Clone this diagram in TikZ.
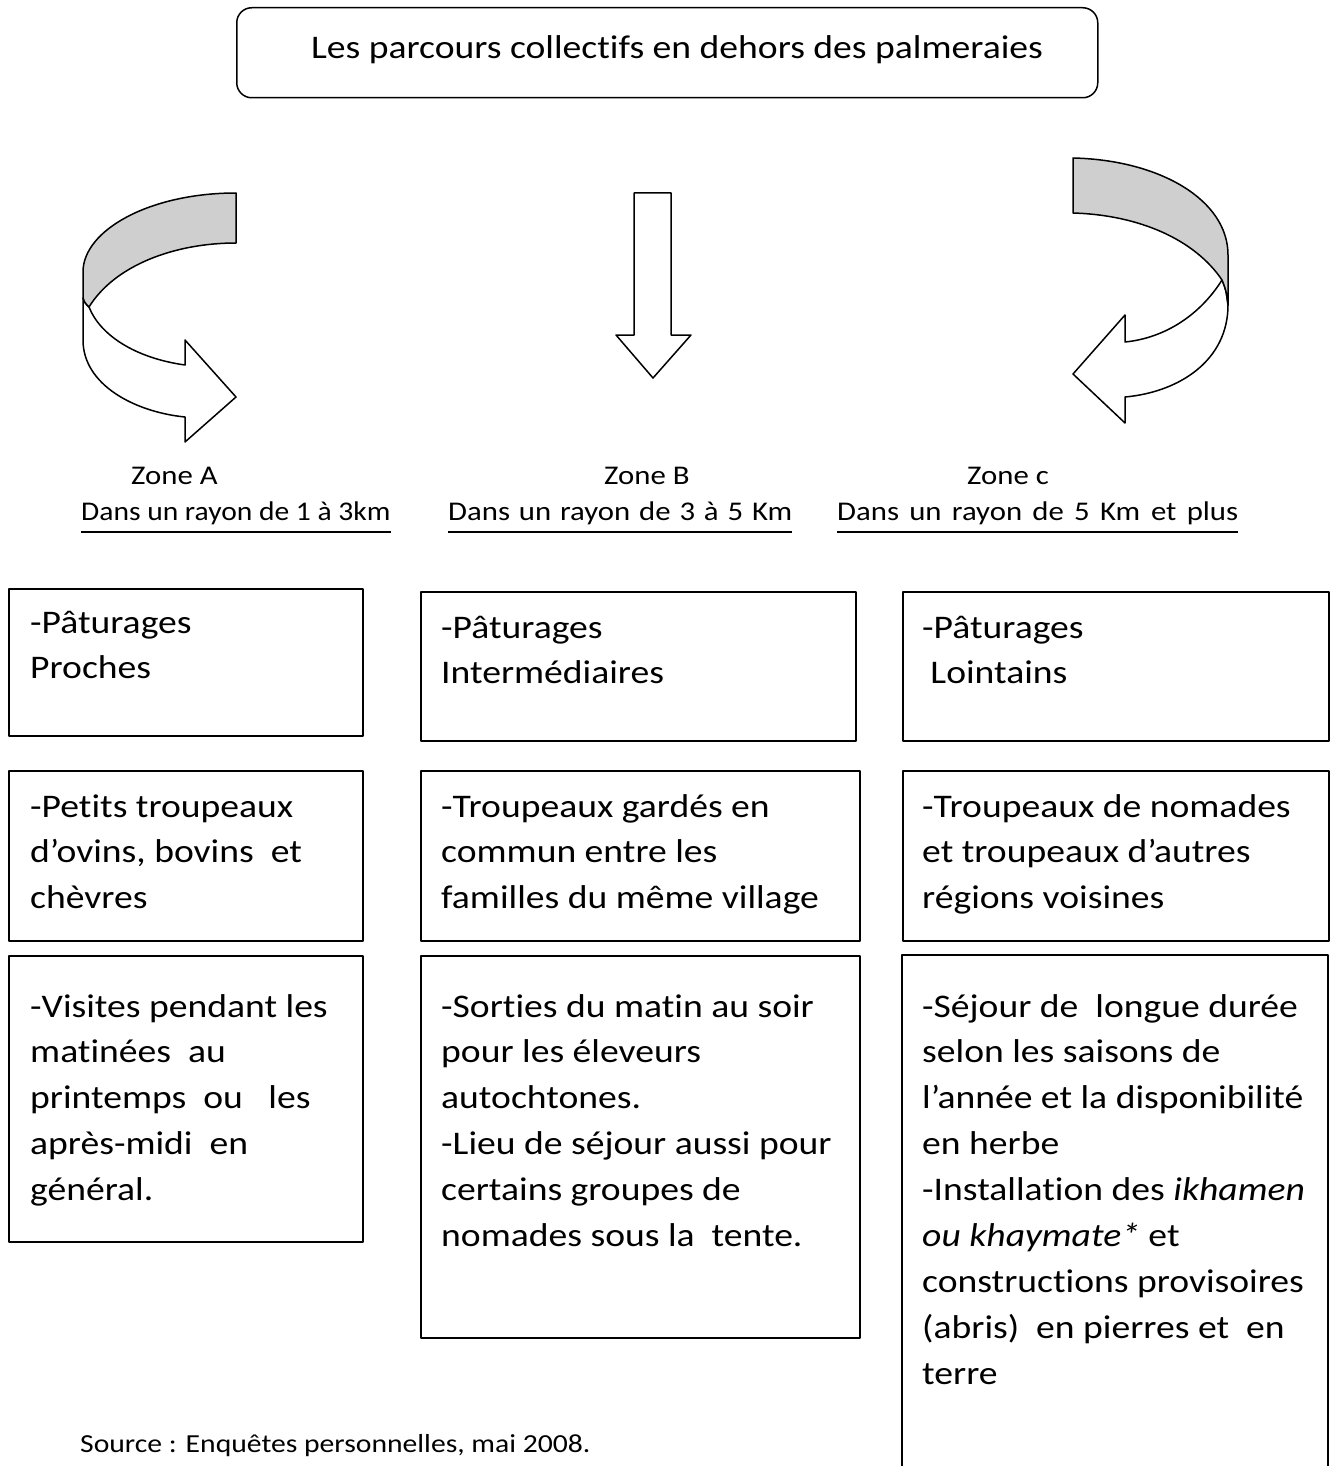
\documentclass[tikz,border=0pt]{standalone}
\usepackage{fontspec}
\setmainfont{Carlito}[FakeStretch=1.14, Ligatures=NoCommon]
\definecolor{bandgray}{RGB}{207,207,207}
\newcommand\bodyfont{\fontsize{33}{45.9}\selectfont}
\newcommand\zonefont{\fontsize{27}{32}\selectfont}
\newcommand\srcfont{\fontsize{26}{32}\selectfont}
\newcommand\cellpar[1]{\parbox[t]{440pt}{\bodyfont\raggedright #1}}
\begin{document}
\begin{tikzpicture}[x=1pt,y=-1pt, line join=round,
  cell/.style={draw, line width=1.5pt, anchor=north west, inner sep=0pt},
  txt/.style={anchor=base west, inner sep=0pt},
  ztxt/.style={anchor=base west, inner sep=0pt, font=\zonefont},
  band/.style={draw, line width=1.5pt},
  uline/.style={line width=2.2pt}]
\useasboundingbox (0,0) rectangle (1333,1466);

% title
\node[draw, rounded corners=15pt, line width=1.5pt, minimum width=861pt, minimum height=90pt, anchor=north west, inner sep=0pt] (title) at (236,7) {};
\node[anchor=base, inner sep=0pt, font=\bodyfont] (titletxt) at (677,59) {Les parcours collectifs en dehors des palmeraies};

% left curved arrow
\path[band, fill=white] (83,298) -- (83,340) .. controls (83,385) and (135,412) .. (185,417) -- (185,442) -- (236,397) -- (185,340) -- (185,365) .. controls (135,358) and (100,335) .. (89,307) .. controls (85,303) .. (83,298) -- cycle;
\path[band, fill=bandgray] (236,193) .. controls (150,193) and (83,230) .. (83,272) -- (83,298) .. controls (85,303) .. (89,307) .. controls (115,265) and (175,243) .. (236,243) -- cycle;

% middle arrow
\path[band, fill=white] (634,193) -- (671,193) -- (671,335) -- (691,335) -- (653,378) -- (616,335) -- (634,335) -- cycle;

% right curved arrow
\path[band, fill=white] (1228,305) .. controls (1228,360) and (1180,392) .. (1125,397) -- (1125,423) -- (1073,374) -- (1125,315) -- (1125,342) .. controls (1165,338) and (1200,315) .. (1222,280) .. controls (1226,290) .. (1228,305) -- cycle;
\path[band, fill=bandgray] (1073,158) .. controls (1160,160) and (1228,200) .. (1228,255) -- (1228,305) .. controls (1226,290) .. (1222,280) .. controls (1195,240) and (1140,215) .. (1073,213) -- cycle;

% zone labels
\node[ztxt] (za) at (131,484) {Zone A};
\node[ztxt] (zb) at (604,484) {Zone B};
\node[ztxt] (zc) at (967,484) {Zone c};
\node[ztxt, xscale=0.96, transform shape] (za2) at (81,520) {Dans un rayon de 1 à 3km};
\node[ztxt] (zb2) at (448,520) {\makebox[344pt][s]{Dans un rayon de 3 à 5 Km}};
\node[ztxt] (zc2) at (837,520) {\makebox[401pt][s]{Dans un rayon de 5 Km\hspace{0.4em}et plus}};
\draw[uline] ([yshift=-12pt]za2.base west) -- ([yshift=-12pt]za2.base east);
\draw[uline] ([yshift=-12pt]zb2.base west) -- ([yshift=-12pt]zb2.base east);
\draw[uline] ([yshift=-12pt]zc2.base west) -- ([yshift=-12pt]zc2.base east);

% cells
\node[cell, minimum width=354pt, minimum height=147pt] (b11) at (8,588) {};
\node[cell, minimum width=435pt, minimum height=149pt] (b21) at (420,591) {};
\node[cell, minimum width=426pt, minimum height=149pt] (b31) at (902,591) {};
\node[cell, minimum width=354pt, minimum height=170pt] (b12) at (8,770) {};
\node[cell, minimum width=439pt, minimum height=170pt] (b22) at (420,770) {};
\node[cell, minimum width=426pt, minimum height=170pt] (b32) at (902,770) {};
\node[cell, minimum width=354pt, minimum height=286pt] (b13) at (8,955) {};
\node[cell, minimum width=439pt, minimum height=382pt] (b23) at (420,955) {};
\draw[line width=1.5pt] (902,1470) -- (902,955) -- (1328,955) -- (1328,1470);
\coordinate (b33) at (902,955);

% cell texts
\node[txt] (t11) at (30,633) {\cellpar{-Pâturages\\Proches}};
\node[txt] (t21) at (441,638) {\cellpar{-Pâturages\\Intermédiaires}};
\node[txt] (t31) at (922,638) {\cellpar{-Pâturages\\\hspace*{0.25em}Lointains}};
\node[txt] (t12) at (30,817) {\cellpar{-Petits troupeaux\\d’ovins, bovins\ \ et\\chèvres}};
\node[txt] (t22) at (441,817) {\cellpar{-Troupeaux gardés en\\commun entre les\\familles du même village}};
\node[txt] (t32) at (922,817) {\cellpar{-Troupeaux de nomades\\et troupeaux d’autres\\régions voisines}};
\node[txt] (t13) at (30,1017) {\cellpar{-Visites pendant les\\matinées\ \ au\\printemps\ \ ou\ \ \ les\\après-midi\ \ en\\général.}};
\node[txt] (t23) at (441,1017) {\cellpar{-Sorties du matin au soir\\pour les éleveurs\\autochtones.\\-Lieu de séjour aussi pour\\certains groupes de\\nomades sous la\ \ tente.}};
\node[txt] (t33) at (922,1017) {\cellpar{-Séjour de\ \ longue durée\\selon les saisons de\\l’année et la disponibilité\\en herbe\\-Installation des \textit{ikhamen}\\\textit{ou khaymate*} et\\constructions provisoires\\(abris)\ \ en pierres et\ \ en\\terre}};

% source
\node[anchor=base west, inner sep=0pt, font=\srcfont] (src) at (80,1452) {Source : Enquêtes personnelles, mai 2008.};
\end{tikzpicture}
\end{document}
